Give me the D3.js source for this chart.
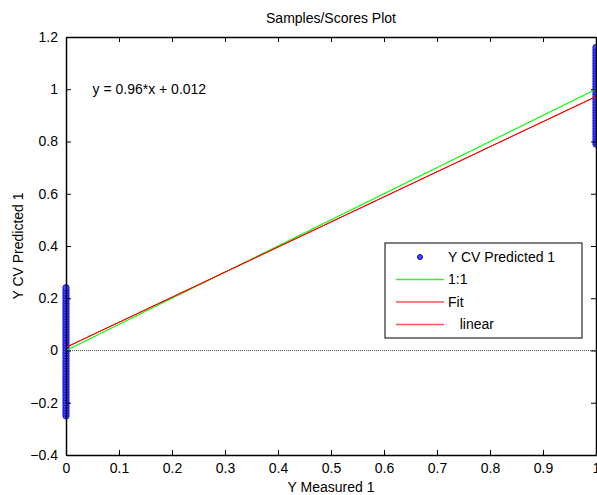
<!DOCTYPE html>
<html>
<head>
<meta charset="utf-8">
<script src="https://cdn.jsdelivr.net/npm/d3@7"></script>
<style>
  body { margin: 0; background: #fff; }
  text { font-family: Arial, "Liberation Sans", sans-serif; fill: #000; }
</style>
</head>
<body>
<svg width="597" height="495"></svg>
<script>
// samples measured as 0 (predicted values)
const predAtZero = [-0.25, -0.24, -0.23, -0.22, -0.21, -0.2, -0.19, -0.18, -0.17, -0.16, -0.15, -0.14,
    -0.13, -0.12, -0.11, -0.1, -0.09, -0.08, -0.07, -0.06, -0.05, -0.04, -0.03, -0.02, -0.01, 0,
    0.01, 0.02, 0.03, 0.04, 0.05, 0.06, 0.07, 0.08, 0.09, 0.1, 0.11, 0.12, 0.13, 0.14, 0.15,
    0.16, 0.17, 0.18, 0.19, 0.2, 0.21, 0.22, 0.23, 0.24];
// samples measured as 1
const predAtOne = [0.79, 0.8, 0.81, 0.82, 0.83, 0.84, 0.85, 0.86, 0.87, 0.88, 0.89, 0.9, 0.91, 0.92,
    0.93, 0.94, 0.95, 0.96, 0.97, 0.98, 0.99, 1.0, 1.01, 1.02, 1.03, 1.04, 1.05, 1.06, 1.07,
    1.08, 1.09, 1.1, 1.11, 1.12, 1.13, 1.14, 1.15, 1.16];

const xTicks = [0, 0.1, 0.2, 0.3, 0.4, 0.5, 0.6, 0.7, 0.8, 0.9, 1];
const yTicks = [-0.4, -0.2, 0, 0.2, 0.4, 0.6, 0.8, 1, 1.2];

const fitSlope = 0.96;
const fitIntercept = 0.012;

const legendItems = [
    { label: "Y CV Predicted 1", type: "dot", color: "#0000ff" },
    { label: "1:1", type: "line", color: "#33ee33" },
    { label: "Fit", type: "line", color: "#ff5555" },
    { label: "   linear", type: "line", color: "#ff5555" }
];

const svg = d3.select("svg");
const margin = { top: 37, right: 1, bottom: 40, left: 66 };
const width = 597, height = 495;
const innerWidth = width - margin.left - margin.right;
const innerHeight = height - margin.top - margin.bottom;

const g = svg.append("g")
    .attr("transform", `translate(${margin.left},${margin.top})`);

const x = d3.scaleLinear().domain([0, 1]).range([0, innerWidth]);
const y = d3.scaleLinear().domain([-0.4, 1.2]).range([innerHeight, 0]);

// zero line
g.append("line")
    .attr("x1", x(0)).attr("x2", x(1))
    .attr("y1", y(0)).attr("y2", y(0))
    .attr("stroke", "#555")
    .attr("stroke-width", 1)
    .attr("stroke-dasharray", "1,1");

// points
const points = predAtZero.map(v => ({ mx: 0, py: v }))
    .concat(predAtOne.map(v => ({ mx: 1, py: v })));

g.selectAll("circle.pt")
    .data(points)
    .join("circle")
    .attr("class", "pt")
    .attr("cx", d => x(d.mx))
    .attr("cy", d => y(d.py))
    .attr("r", 3.2)
    .attr("fill", "#4a4aff")
    .attr("stroke", "#0000ee")
    .attr("stroke-width", 0.8);

// 1:1 line and fit lines
const line = d3.line().x(d => x(d[0])).y(d => y(d[1]));

g.append("path")
    .datum([[0, 0], [1, 1]])
    .attr("fill", "none")
    .attr("stroke", "#00ff00")
    .attr("stroke-width", 1.2)
    .attr("d", line);

[0, 1].forEach(() => {
    g.append("path")
        .datum([[0, fitIntercept], [1, fitSlope + fitIntercept]])
        .attr("fill", "none")
        .attr("stroke", "#ff0000")
        .attr("stroke-width", 1)
        .attr("d", line);
});

// axes, MATLAB-style box with inward ticks
const tickLen = 5;
g.append("g")
    .attr("transform", `translate(0,${innerHeight})`)
    .call(d3.axisBottom(x).tickValues(xTicks).tickSizeInner(-tickLen).tickSizeOuter(0)
        .tickPadding(8).tickFormat(d3.format("")))
    .call(a => a.selectAll("text").attr("font-size", 14));

g.append("g")
    .call(d3.axisTop(x).tickValues(xTicks).tickSizeInner(-tickLen).tickSizeOuter(0))
    .call(a => a.selectAll("text").remove());

g.append("g")
    .call(d3.axisLeft(y).tickValues(yTicks).tickSizeInner(-tickLen).tickSizeOuter(0)
        .tickPadding(8).tickFormat(d3.format("")))
    .call(a => a.selectAll("text").attr("font-size", 14));

g.append("g")
    .attr("transform", `translate(${innerWidth},0)`)
    .call(d3.axisRight(y).tickValues(yTicks).tickSizeInner(-tickLen).tickSizeOuter(0))
    .call(a => a.selectAll("text").remove());

g.selectAll(".domain").attr("stroke", "#000").attr("stroke-width", 1.5);
g.selectAll(".tick line").attr("stroke", "#000");
g.selectAll(".tick text").attr("font-family", "Arial, 'Liberation Sans', sans-serif");

// titles
svg.append("text")
    .attr("x", margin.left + innerWidth / 2)
    .attr("y", 23)
    .attr("text-anchor", "middle")
    .attr("font-size", 14)
    .text("Samples/Scores Plot");

svg.append("text")
    .attr("x", margin.left + innerWidth / 2)
    .attr("y", 492)
    .attr("text-anchor", "middle")
    .attr("font-size", 14)
    .text("Y Measured 1");

svg.append("text")
    .attr("transform", `translate(23,${margin.top + innerHeight / 2}) rotate(-90)`)
    .attr("text-anchor", "middle")
    .attr("font-size", 14)
    .text("Y CV Predicted 1");

// fit equation
g.append("text")
    .attr("x", x(0.05))
    .attr("y", y(1) + 5)
    .attr("font-size", 14)
    .text(`y = ${fitSlope}*x + ${fitIntercept}`);

// legend
const legend = svg.append("g").attr("transform", "translate(385,243)");
legend.append("rect")
    .attr("width", 197).attr("height", 95)
    .attr("fill", "#fff")
    .attr("stroke", "#000")
    .attr("stroke-width", 1);

const rows = legend.selectAll("g.row")
    .data(legendItems)
    .join("g")
    .attr("class", "row")
    .attr("transform", (d, i) => `translate(0,${14 + i * 22.5})`);

rows.filter(d => d.type === "dot").append("circle")
    .attr("cx", 35).attr("r", 2.5)
    .attr("fill", "#4a4aff").attr("stroke", "#0000ee");

rows.filter(d => d.type === "line").append("line")
    .attr("x1", 11).attr("x2", 59)
    .attr("stroke", d => d.color)
    .attr("stroke-width", 1.5);

rows.append("text")
    .attr("x", 63)
    .attr("dy", "0.35em")
    .attr("font-size", 14)
    .attr("xml:space", "preserve")
    .style("white-space", "pre")
    .text(d => d.label);
</script>
</body>
</html>
